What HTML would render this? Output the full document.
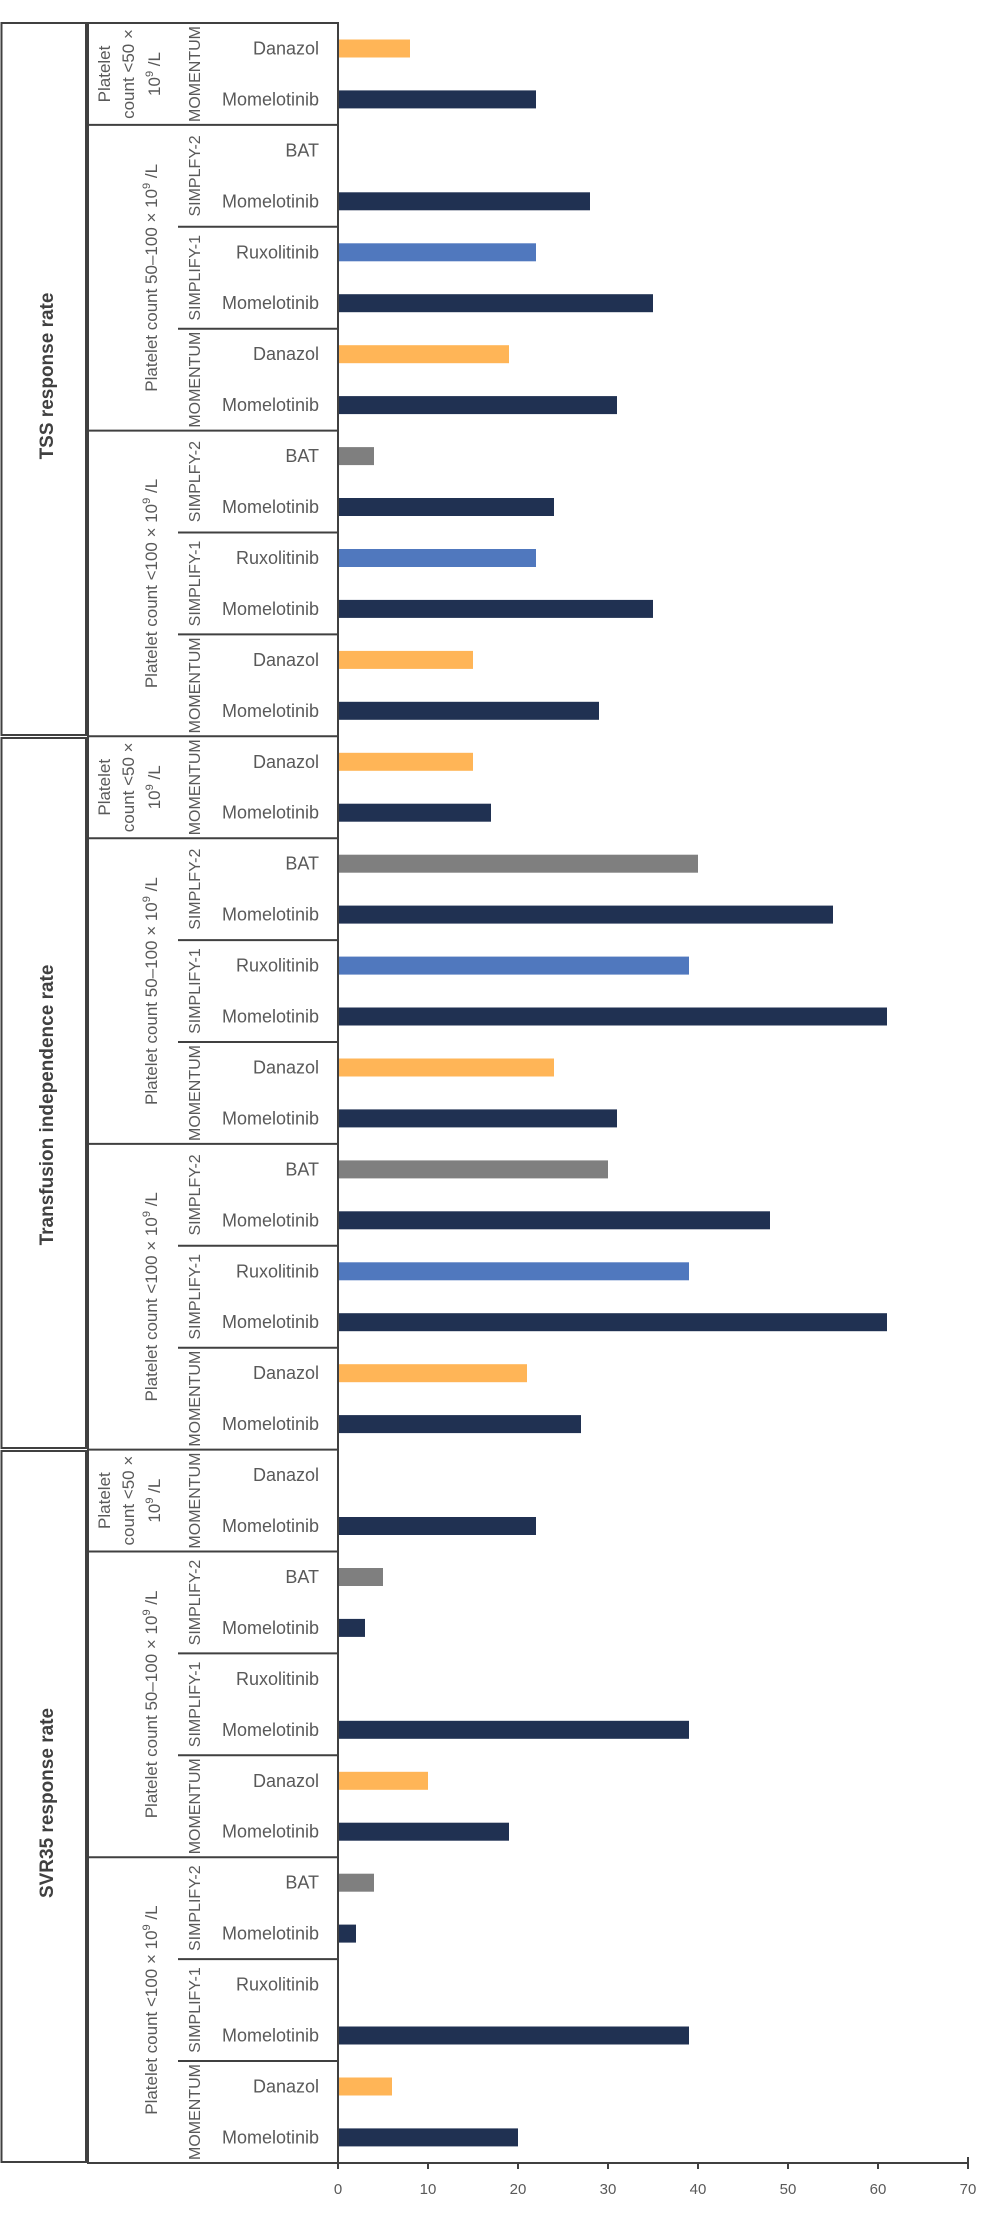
<!DOCTYPE html>
<html><head><meta charset="utf-8"><style>
html,body{margin:0;padding:0;background:#fff;}
svg{display:block;}
text{font-family:"Liberation Sans",sans-serif;}
.d{font-size:18px;fill:#595959;text-anchor:end;}
.s{font-size:16px;fill:#595959;text-anchor:middle;}
.p{font-size:17px;fill:#595959;text-anchor:middle;}
.t{font-size:19px;font-weight:bold;fill:#404040;text-anchor:middle;}
.x{font-size:15px;fill:#595959;text-anchor:middle;}
.ln{stroke:#404040;stroke-width:2;fill:none;}
</style></head><body>
<svg width="1000" height="2213" viewBox="0 0 1000 2213" xmlns="http://www.w3.org/2000/svg">
<rect x="0" y="0" width="1000" height="2213" fill="#fff"/>
<!-- bars -->
<g>
<rect x="338" y="39.5" width="72" height="18" fill="#FFB557"/>
<rect x="338" y="90.4" width="198" height="18" fill="#203152"/>
<rect x="338" y="192.3" width="252" height="18" fill="#203152"/>
<rect x="338" y="243.3" width="198" height="18" fill="#5078BE"/>
<rect x="338" y="294.2" width="315" height="18" fill="#203152"/>
<rect x="338" y="345.2" width="171" height="18" fill="#FFB557"/>
<rect x="338" y="396.1" width="279" height="18" fill="#203152"/>
<rect x="338" y="447.1" width="36" height="18" fill="#7F7F7F"/>
<rect x="338" y="498" width="216" height="18" fill="#203152"/>
<rect x="338" y="549" width="198" height="18" fill="#5078BE"/>
<rect x="338" y="599.9" width="315" height="18" fill="#203152"/>
<rect x="338" y="650.9" width="135" height="18" fill="#FFB557"/>
<rect x="338" y="701.8" width="261" height="18" fill="#203152"/>

<rect x="338" y="752.8" width="135" height="18" fill="#FFB557"/>
<rect x="338" y="803.7" width="153" height="18" fill="#203152"/>
<rect x="338" y="854.7" width="360" height="18" fill="#7F7F7F"/>
<rect x="338" y="905.6" width="495" height="18" fill="#203152"/>
<rect x="338" y="956.6" width="351" height="18" fill="#5078BE"/>
<rect x="338" y="1007.5" width="549" height="18" fill="#203152"/>
<rect x="338" y="1058.5" width="216" height="18" fill="#FFB557"/>
<rect x="338" y="1109.4" width="279" height="18" fill="#203152"/>
<rect x="338" y="1160.4" width="270" height="18" fill="#7F7F7F"/>
<rect x="338" y="1211.3" width="432" height="18" fill="#203152"/>
<rect x="338" y="1262.3" width="351" height="18" fill="#5078BE"/>
<rect x="338" y="1313.2" width="549" height="18" fill="#203152"/>
<rect x="338" y="1364.2" width="189" height="18" fill="#FFB557"/>
<rect x="338" y="1415.1" width="243" height="18" fill="#203152"/>

<rect x="338" y="1517" width="198" height="18" fill="#203152"/>
<rect x="338" y="1568" width="45" height="18" fill="#7F7F7F"/>
<rect x="338" y="1618.9" width="27" height="18" fill="#203152"/>
<rect x="338" y="1720.8" width="351" height="18" fill="#203152"/>
<rect x="338" y="1771.8" width="90" height="18" fill="#FFB557"/>
<rect x="338" y="1822.7" width="171" height="18" fill="#203152"/>
<rect x="338" y="1873.7" width="36" height="18" fill="#7F7F7F"/>
<rect x="338" y="1924.6" width="18" height="18" fill="#203152"/>
<rect x="338" y="2026.5" width="351" height="18" fill="#203152"/>
<rect x="338" y="2077.5" width="54" height="18" fill="#FFB557"/>
<rect x="338" y="2128.4" width="180" height="18" fill="#203152"/>
</g>

<!-- outer section boxes -->
<rect class="ln" x="1.5" y="23" width="84.5" height="712"/>
<rect class="ln" x="1.5" y="738" width="84.5" height="710"/>
<rect class="ln" x="1.5" y="1451" width="84.5" height="711"/>

<!-- label grid -->
<g class="ln">
<line x1="88" y1="23" x2="338" y2="23"/>
<line x1="88" y1="22" x2="88" y2="2164"/>
<line x1="338" y1="22" x2="338" y2="2169"/>
<line x1="87" y1="2163" x2="969" y2="2163"/>
<!-- full group / section lines -->
<line x1="88" y1="124.9" x2="338" y2="124.9"/>
<line x1="88" y1="430.6" x2="338" y2="430.6"/>
<line x1="88" y1="736.3" x2="338" y2="736.3"/>
<line x1="88" y1="838.2" x2="338" y2="838.2"/>
<line x1="88" y1="1143.9" x2="338" y2="1143.9"/>
<line x1="88" y1="1449.6" x2="338" y2="1449.6"/>
<line x1="88" y1="1551.5" x2="338" y2="1551.5"/>
<line x1="88" y1="1857.2" x2="338" y2="1857.2"/>
<!-- study lines -->
<line x1="178" y1="226.8" x2="338" y2="226.8"/>
<line x1="178" y1="328.7" x2="338" y2="328.7"/>
<line x1="178" y1="532.5" x2="338" y2="532.5"/>
<line x1="178" y1="634.4" x2="338" y2="634.4"/>
<line x1="178" y1="940.1" x2="338" y2="940.1"/>
<line x1="178" y1="1042" x2="338" y2="1042"/>
<line x1="178" y1="1245.8" x2="338" y2="1245.8"/>
<line x1="178" y1="1347.7" x2="338" y2="1347.7"/>
<line x1="178" y1="1653.4" x2="338" y2="1653.4"/>
<line x1="178" y1="1755.3" x2="338" y2="1755.3"/>
<line x1="178" y1="1959.1" x2="338" y2="1959.1"/>
<line x1="178" y1="2061" x2="338" y2="2061"/>
<!-- ticks -->
<line x1="428" y1="2163" x2="428" y2="2169"/>
<line x1="518" y1="2163" x2="518" y2="2169"/>
<line x1="608" y1="2163" x2="608" y2="2169"/>
<line x1="698" y1="2163" x2="698" y2="2169"/>
<line x1="788" y1="2163" x2="788" y2="2169"/>
<line x1="878" y1="2163" x2="878" y2="2169"/>
<line x1="968" y1="2157" x2="968" y2="2169"/>
</g>

<!-- tick labels -->
<text class="x" x="338" y="2194">0</text>
<text class="x" x="428" y="2194">10</text>
<text class="x" x="518" y="2194">20</text>
<text class="x" x="608" y="2194">30</text>
<text class="x" x="698" y="2194">40</text>
<text class="x" x="788" y="2194">50</text>
<text class="x" x="878" y="2194">60</text>
<text class="x" x="968" y="2194">70</text>

<!-- drug labels -->
<text class="d" x="319" y="54.5">Danazol</text>
<text class="d" x="319" y="105.4">Momelotinib</text>
<text class="d" x="319" y="156.4">BAT</text>
<text class="d" x="319" y="207.3">Momelotinib</text>
<text class="d" x="319" y="258.3">Ruxolitinib</text>
<text class="d" x="319" y="309.2">Momelotinib</text>
<text class="d" x="319" y="360.2">Danazol</text>
<text class="d" x="319" y="411.1">Momelotinib</text>
<text class="d" x="319" y="462.1">BAT</text>
<text class="d" x="319" y="513">Momelotinib</text>
<text class="d" x="319" y="564">Ruxolitinib</text>
<text class="d" x="319" y="614.9">Momelotinib</text>
<text class="d" x="319" y="665.9">Danazol</text>
<text class="d" x="319" y="716.8">Momelotinib</text>

<text class="d" x="319" y="767.8">Danazol</text>
<text class="d" x="319" y="818.7">Momelotinib</text>
<text class="d" x="319" y="869.7">BAT</text>
<text class="d" x="319" y="920.6">Momelotinib</text>
<text class="d" x="319" y="971.6">Ruxolitinib</text>
<text class="d" x="319" y="1022.5">Momelotinib</text>
<text class="d" x="319" y="1073.5">Danazol</text>
<text class="d" x="319" y="1124.4">Momelotinib</text>
<text class="d" x="319" y="1175.4">BAT</text>
<text class="d" x="319" y="1226.3">Momelotinib</text>
<text class="d" x="319" y="1277.3">Ruxolitinib</text>
<text class="d" x="319" y="1328.2">Momelotinib</text>
<text class="d" x="319" y="1379.2">Danazol</text>
<text class="d" x="319" y="1430.1">Momelotinib</text>

<text class="d" x="319" y="1481.1">Danazol</text>
<text class="d" x="319" y="1532">Momelotinib</text>
<text class="d" x="319" y="1583">BAT</text>
<text class="d" x="319" y="1633.9">Momelotinib</text>
<text class="d" x="319" y="1684.9">Ruxolitinib</text>
<text class="d" x="319" y="1735.8">Momelotinib</text>
<text class="d" x="319" y="1786.8">Danazol</text>
<text class="d" x="319" y="1837.7">Momelotinib</text>
<text class="d" x="319" y="1888.7">BAT</text>
<text class="d" x="319" y="1939.6">Momelotinib</text>
<text class="d" x="319" y="1990.6">Ruxolitinib</text>
<text class="d" x="319" y="2041.5">Momelotinib</text>
<text class="d" x="319" y="2092.5">Danazol</text>
<text class="d" x="319" y="2143.4">Momelotinib</text>

<!-- study labels -->
<text class="s" transform="translate(200,74) rotate(-90)">MOMENTUM</text>
<text class="s" transform="translate(200,175.9) rotate(-90)">SIMPLFY-2</text>
<text class="s" transform="translate(200,277.8) rotate(-90)">SIMPLIFY-1</text>
<text class="s" transform="translate(200,379.7) rotate(-90)">MOMENTUM</text>
<text class="s" transform="translate(200,481.6) rotate(-90)">SIMPLFY-2</text>
<text class="s" transform="translate(200,583.5) rotate(-90)">SIMPLIFY-1</text>
<text class="s" transform="translate(200,685.4) rotate(-90)">MOMENTUM</text>

<text class="s" transform="translate(200,787.3) rotate(-90)">MOMENTUM</text>
<text class="s" transform="translate(200,889.2) rotate(-90)">SIMPLFY-2</text>
<text class="s" transform="translate(200,991.1) rotate(-90)">SIMPLIFY-1</text>
<text class="s" transform="translate(200,1093) rotate(-90)">MOMENTUM</text>
<text class="s" transform="translate(200,1194.9) rotate(-90)">SIMPLFY-2</text>
<text class="s" transform="translate(200,1296.8) rotate(-90)">SIMPLIFY-1</text>
<text class="s" transform="translate(200,1398.7) rotate(-90)">MOMENTUM</text>

<text class="s" transform="translate(200,1500.6) rotate(-90)">MOMENTUM</text>
<text class="s" transform="translate(200,1602.5) rotate(-90)">SIMPLIFY-2</text>
<text class="s" transform="translate(200,1704.4) rotate(-90)">SIMPLIFY-1</text>
<text class="s" transform="translate(200,1806.3) rotate(-90)">MOMENTUM</text>
<text class="s" transform="translate(200,1908.2) rotate(-90)">SIMPLIFY-2</text>
<text class="s" transform="translate(200,2010.1) rotate(-90)">SIMPLIFY-1</text>
<text class="s" transform="translate(200,2112) rotate(-90)">MOMENTUM</text>

<!-- platelet labels: <50 (three lines) -->
<g>
<text class="p" transform="translate(110,74) rotate(-90)">Platelet</text>
<text class="p" transform="translate(134,74) rotate(-90)">count &lt;50 ×</text>
<text class="p" transform="translate(160,74) rotate(-90)">10<tspan font-size="11" dy="-7">9</tspan><tspan dy="7"> /L</tspan></text>

<text class="p" transform="translate(110,787.3) rotate(-90)">Platelet</text>
<text class="p" transform="translate(134,787.3) rotate(-90)">count &lt;50 ×</text>
<text class="p" transform="translate(160,787.3) rotate(-90)">10<tspan font-size="11" dy="-7">9</tspan><tspan dy="7"> /L</tspan></text>

<text class="p" transform="translate(110,1500.6) rotate(-90)">Platelet</text>
<text class="p" transform="translate(134,1500.6) rotate(-90)">count &lt;50 ×</text>
<text class="p" transform="translate(160,1500.6) rotate(-90)">10<tspan font-size="11" dy="-7">9</tspan><tspan dy="7"> /L</tspan></text>
</g>
<!-- 50-100 -->
<text class="p" transform="translate(157,277.8) rotate(-90)">Platelet count 50–100 × 10<tspan font-size="11" dy="-7">9</tspan><tspan dy="7"> /L</tspan></text>
<text class="p" transform="translate(157,991.1) rotate(-90)">Platelet count 50–100 × 10<tspan font-size="11" dy="-7">9</tspan><tspan dy="7"> /L</tspan></text>
<text class="p" transform="translate(157,1704.4) rotate(-90)">Platelet count 50–100 × 10<tspan font-size="11" dy="-7">9</tspan><tspan dy="7"> /L</tspan></text>
<!-- <100 -->
<text class="p" transform="translate(157,583.5) rotate(-90)">Platelet count &lt;100 × 10<tspan font-size="11" dy="-7">9</tspan><tspan dy="7"> /L</tspan></text>
<text class="p" transform="translate(157,1296.8) rotate(-90)">Platelet count &lt;100 × 10<tspan font-size="11" dy="-7">9</tspan><tspan dy="7"> /L</tspan></text>
<text class="p" transform="translate(157,2010.1) rotate(-90)">Platelet count &lt;100 × 10<tspan font-size="11" dy="-7">9</tspan><tspan dy="7"> /L</tspan></text>

<!-- section titles -->
<text class="t" transform="translate(53,376) rotate(-90)">TSS response rate</text>
<text class="t" transform="translate(53,1105) rotate(-90)">Transfusion independence rate</text>
<text class="t" transform="translate(53,1803) rotate(-90)">SVR35 response rate</text>
</svg>
</body></html>
